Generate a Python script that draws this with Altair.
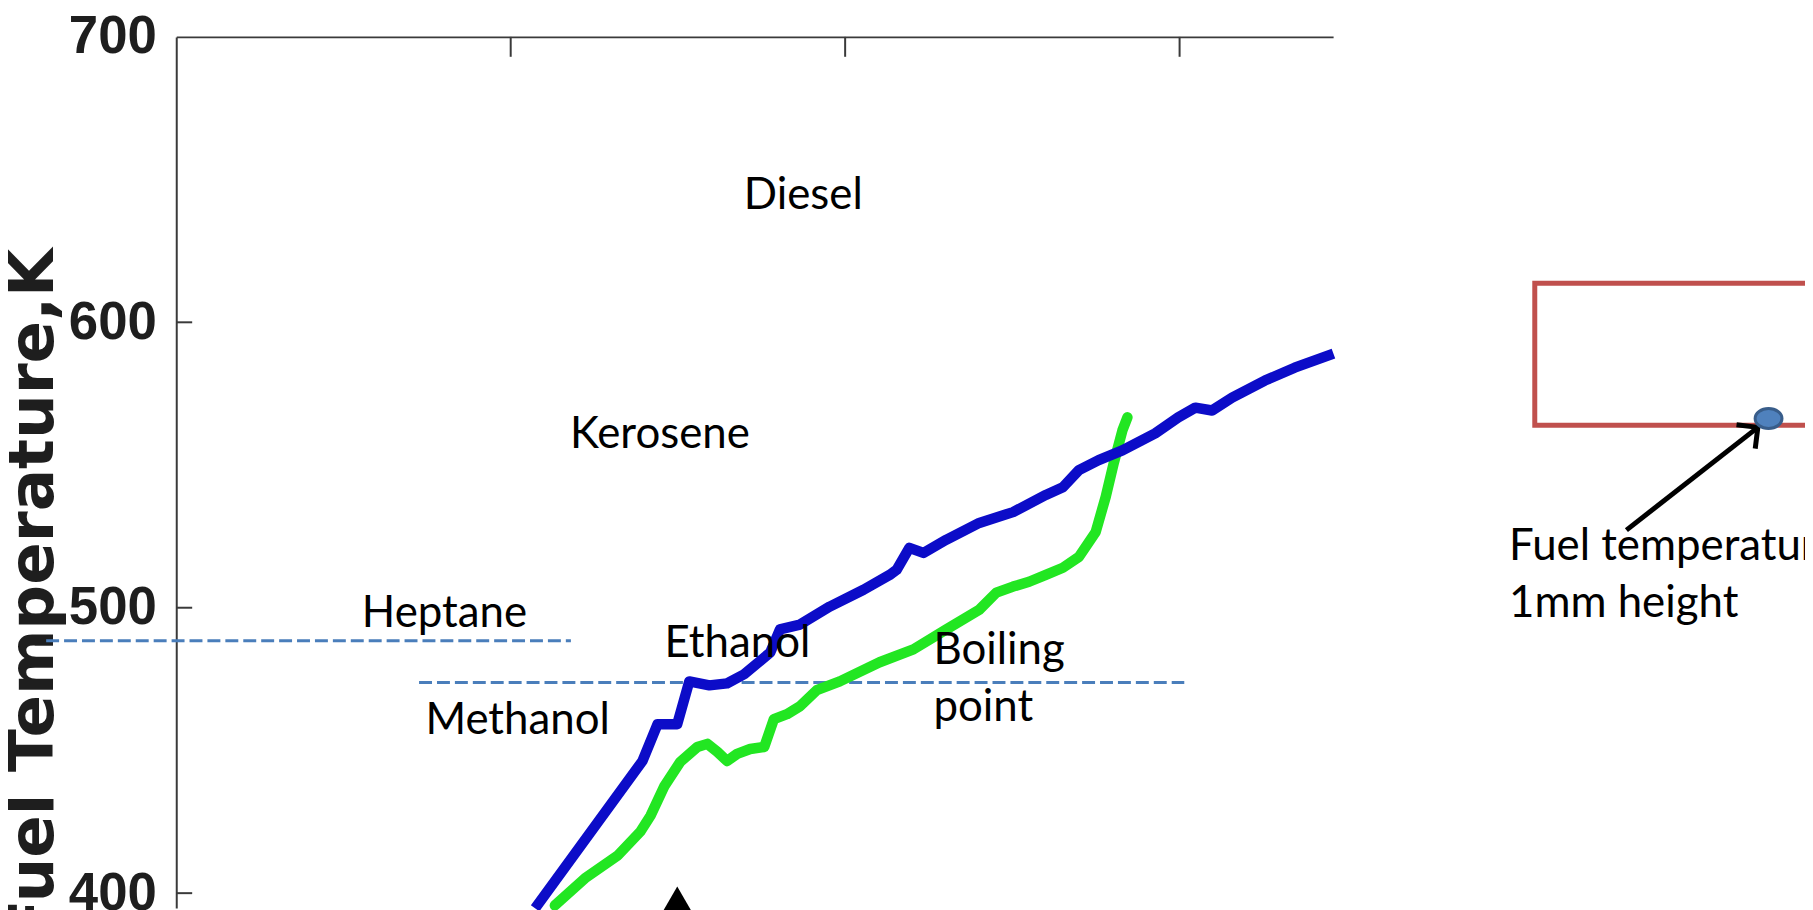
import altair as alt
import pandas as pd

# ---- series (x in plot units, T in K) ----
blue_x = [1.073, 1.394, 1.439, 1.498, 1.534, 1.594, 1.647, 1.698, 1.776, 1.805, 1.865,
          1.954, 2.055, 2.133, 2.154, 2.192, 2.234, 2.302, 2.401, 2.502, 2.600, 2.651,
          2.699, 2.758, 2.829, 2.927, 2.996, 3.047, 3.097, 3.157, 3.255, 3.344, 3.460]
blue_T = [394.7, 446.3, 459.2, 459.2, 474.2, 472.8, 473.5, 476.7, 484.3, 492.4, 494.1,
          500.4, 506.3, 511.5, 513.3, 521.0, 519.2, 523.8, 529.7, 533.5, 539.5, 542.2,
          548.2, 551.7, 555.1, 561.1, 566.7, 570.1, 569.1, 573.6, 579.6, 584.1, 589.0]

green_x = [1.132, 1.222, 1.320, 1.388, 1.418, 1.460, 1.507, 1.558, 1.588, 1.618, 1.647,
           1.677, 1.716, 1.758, 1.787, 1.826, 1.865, 1.915, 1.984, 2.103, 2.204, 2.302,
           2.401, 2.452, 2.502, 2.550, 2.600, 2.651, 2.699, 2.749, 2.779, 2.803, 2.829, 2.844]
green_T = [395.7, 405.2, 413.2, 421.6, 427.1, 437.6, 446.0, 451.2, 452.3, 449.5, 446.3,
           448.8, 450.5, 451.2, 461.0, 462.7, 465.5, 471.1, 474.2, 480.9, 485.4, 492.4,
           499.3, 505.3, 507.4, 509.1, 511.5, 514.0, 517.8, 526.5, 538.8, 550.6, 562.1, 566.7]

y_ticks = [400, 500, 600, 700]
x_ticks = [1, 2, 3]

boil_names = ["Heptane", "Methanol"]
boil_x_start = [-0.389, 0.726]
boil_x_end = [1.180, 3.014]
boil_T = [488.4, 473.8]

label_text = ["Diesel", "Kerosene", "Heptane", "Ethanol", "Methanol", "Boiling", "point"]
label_x = [1.697, 1.177, 0.555, 1.460, 0.745, 2.264, 2.264]
label_T = [639.6, 555.8, 493.1, 482.9, 455.7, 480.2, 460.3]

inset_text = ["Fuel temperature at", "1mm height"]
inset_x = [3.985, 3.985]
inset_T = [516.8, 496.9]

box_x, box_x2 = [4.062], [5.3]
box_T, box_T2 = [613.7], [563.9]
probe_x, probe_T = [4.761], [566.3]
arrow_x = [4.336, 4.729]
arrow_T = [527.2, 563.2]
marker_x, marker_T = [1.498], [397.8]

# ---- tables ----
blue_df = pd.DataFrame({"x": blue_x, "T": blue_T})
green_df = pd.DataFrame({"x": green_x, "T": green_T})
boil_df = pd.DataFrame({"name": boil_names, "x": boil_x_start, "x2": boil_x_end, "T": boil_T})
label_df = pd.DataFrame({"text": label_text, "x": label_x, "T": label_T})
inset_df = pd.DataFrame({"text": inset_text, "x": inset_x, "T": inset_T})
box_df = pd.DataFrame({"x": box_x, "x2": box_x2, "T": box_T, "T2": box_T2})
probe_df = pd.DataFrame({"x": probe_x, "T": probe_T})
arrow_df = pd.DataFrame({"x": arrow_x, "T": arrow_T})
head_df = pd.DataFrame({"x": arrow_x[-1:], "T": arrow_T[-1:]})
marker_df = pd.DataFrame({"x": marker_x, "T": marker_T})
ytick_df = pd.DataFrame({"T": y_ticks[:-1]})
xtick_df = pd.DataFrame({"x": x_ticks})

xscale = alt.Scale(domain=[0, 3.459], nice=False, zero=False)
yscale = alt.Scale(domain=[394.8, 700], nice=False, zero=False)

xaxis = alt.Axis(orient="top", domain=True, domainColor="#3a3a3a", domainWidth=2,
                 labels=False, ticks=False, grid=False, title=None)
yaxis = alt.Axis(orient="left", values=y_ticks, domain=True, domainColor="#3a3a3a",
                 domainWidth=2, ticks=False, grid=False,
                 labelFont="Liberation Sans", labelFontWeight="bold",
                 labelFontSize=53, labelColor="#1e1e1e", labelPadding=20,
                 labelFlush=False, labelOverlap=False,
                 title="Fuel Temperature,K", titleFont="DejaVu Sans", titleFontWeight="bold",
                 titleFontSize=63, titleColor="#1e1e1e", titleAngle=270, titleAlign="right",
                 titleBaseline="alphabetic", titleX=-124, titleY=212)

X = alt.X("x:Q", scale=xscale, axis=xaxis)
Y = alt.Y("T:Q", scale=yscale, axis=yaxis)

blue = alt.Chart(blue_df).mark_line(color="#0c0cc8", strokeWidth=10.5, strokeJoin="round").encode(x=X, y=Y)
green = alt.Chart(green_df).mark_line(color="#22e622", strokeWidth=10.5, strokeJoin="round",
                                      strokeCap="round").encode(x=X, y=Y)

boil = alt.Chart(boil_df).mark_rule(color="#4a7ebb", strokeWidth=3, strokeDash=[13, 5]).encode(
    x=X, x2="x2:Q", y=Y)

yticks = alt.Chart(ytick_df).mark_rule(color="#3a3a3a", strokeWidth=2).encode(
    y=Y, x=alt.value(0), x2=alt.value(16))
xticks = alt.Chart(xtick_df).mark_rule(color="#3a3a3a", strokeWidth=2).encode(
    x=X, y=alt.value(0), y2=alt.value(20))

labels = alt.Chart(label_df).mark_text(font="Lato", fontSize=44, color="#000000",
                                       align="left", baseline="alphabetic").encode(
    x=X, y=Y, text="text:N")
inset = alt.Chart(inset_df).mark_text(font="Lato", fontSize=44, color="#000000",
                                      align="left", baseline="alphabetic").encode(
    x=X, y=Y, text="text:N")

box = alt.Chart(box_df).mark_rect(fillOpacity=0, stroke="#c0504d", strokeWidth=5).encode(
    x=X, x2="x2:Q", y=Y, y2="T2:Q")

arrow = alt.Chart(arrow_df).mark_line(color="#000000", strokeWidth=5).encode(x=X, y=Y)
head = alt.Chart(head_df).mark_point(shape="M-0.7,0.7L0,0L0.7,0.7", size=1900, angle=52,
                                     filled=False, stroke="#000000", strokeWidth=5,
                                     opacity=1).encode(x=X, y=Y)
probe = alt.Chart(probe_df).mark_point(shape="M-1,0A1,0.74,0,1,1,1,0A1,0.74,0,1,1,-1,0Z",
                                       size=729, filled=True, fill="#4f81bd", stroke="#385d8a",
                                       strokeWidth=3, opacity=1).encode(x=X, y=Y)

marker = alt.Chart(marker_df).mark_point(shape="triangle-up", size=900, filled=True,
                                         color="#000000", opacity=1).encode(x=X, y=Y)

chart = alt.layer(
    boil, yticks, xticks, green, blue, marker, labels, box, arrow, head, probe, inset
).properties(
    width=1162, height=875,
    autosize=alt.AutoSizeParams(type="none"),
    padding={"left": 169, "top": 27, "right": 474, "bottom": 0},
    background="white",
).configure_view(strokeWidth=0)

chart.save("out.html", embed_options={"renderer": "svg", "actions": False})
